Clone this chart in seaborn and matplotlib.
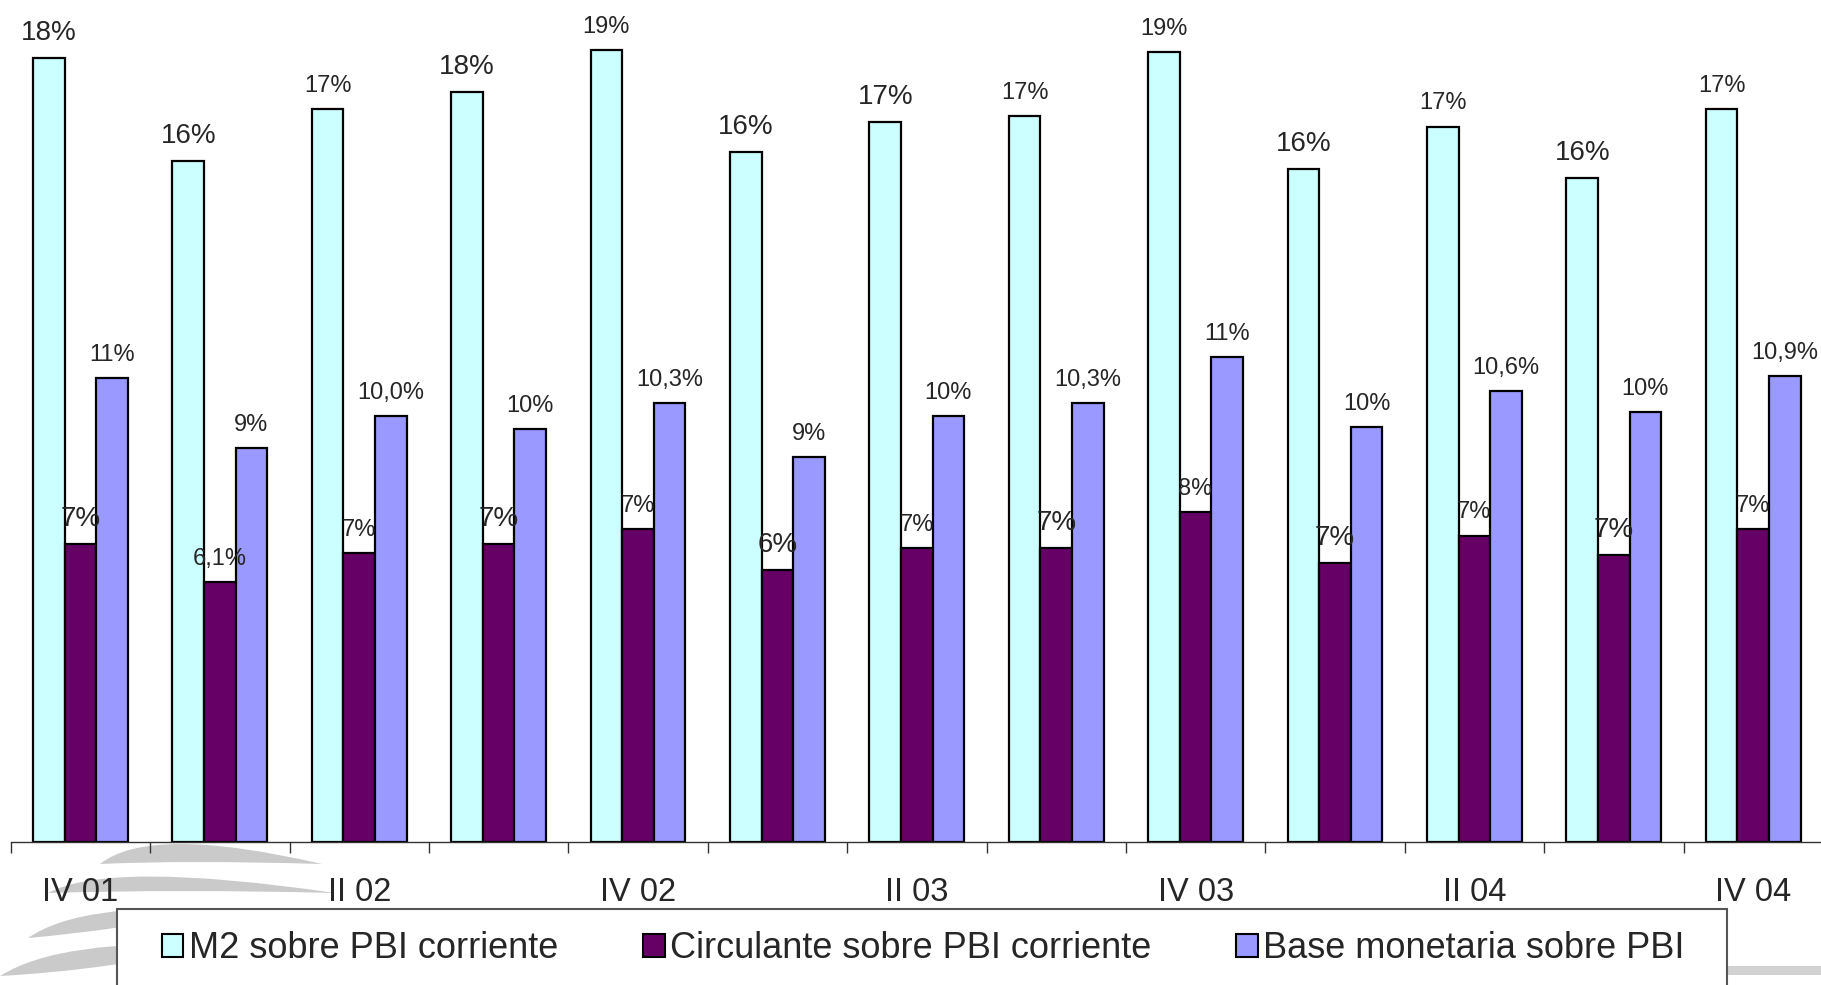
import numpy as np
import pandas as pd
import matplotlib
matplotlib.use("Agg")
import matplotlib.pyplot as plt
import matplotlib.patches as mpatches
import matplotlib.transforms as mtransforms
from matplotlib.path import Path
import seaborn as sns

# data
trimestres = ["IV 01", "I 02", "II 02", "III 02", "IV 02", "I 03", "II 03",
              "III 03", "IV 03", "I 04", "II 04", "III 04", "IV 04"]
tick_labels = ["IV 01", "", "II 02", "", "IV 02", "", "II 03",
               "", "IV 03", "", "II 04", "", "IV 04"]
series = ["M2 sobre PBI corriente", "Circulante sobre PBI corriente",
          "Base monetaria sobre PBI"]
m2 = [18.4, 16.0, 17.2, 17.6, 18.6, 16.2, 16.9, 17.05, 18.55, 15.8, 16.8, 15.6, 17.2]
circulante = [7.0, 6.1, 6.8, 7.0, 7.35, 6.4, 6.9, 6.9, 7.75, 6.55, 7.2, 6.75, 7.35]
base = [10.9, 9.25, 10.0, 9.7, 10.3, 9.05, 10.0, 10.3, 11.4, 9.75, 10.6, 10.1, 10.95]

m2_labels = ["18%", "16%", "17%", "18%", "19%", "16%", "17%", "17%", "19%",
             "16%", "17%", "16%", "17%"]
circ_labels = ["7%", "6,1%", "7%", "7%", "7%", "6%", "7%", "7%", "8%",
               "7%", "7%", "7%", "7%"]
base_labels = ["11%", "9%", "10,0%", "10%", "10,3%", "9%", "10%", "10,3%", "11%",
               "10%", "10,6%", "10%", "10,9%"]
# which labels are printed in the larger size
m2_big = [1, 1, 0, 1, 0, 1, 1, 0, 0, 1, 0, 1, 0]
circ_big = [1, 0, 0, 1, 0, 1, 0, 1, 0, 1, 0, 1, 0]
base_big = [0] * 13

colors = ["#CCFFFF", "#660066", "#9999FF"]

df = pd.DataFrame({
    "trimestre": trimestres * 3,
    "serie": np.repeat(series, len(trimestres)),
    "valor": m2 + circulante + base,
})

sns.set_style("white")
plt.rcParams["font.family"] = ["Liberation Sans", "DejaVu Sans"]

W, H = 1821, 985
fig = plt.figure(figsize=(W / 100, H / 100), dpi=100)
ax = fig.add_axes([10.7 / W, 1 - 842.3 / H, 13 * 139.4 / W, 842.3 / H])

sns.barplot(data=df, x="trimestre", y="valor", hue="serie", order=trimestres,
            hue_order=series, palette=colors, width=0.68, gap=0,
            edgecolor="black", linewidth=1.6, saturation=1, legend=False, ax=ax)

for cont, labs, big in zip(ax.containers, [m2_labels, circ_labels, base_labels],
                           [m2_big, circ_big, base_big]):
    texts = ax.bar_label(cont, labels=labs, padding=8.7, fontsize=17)
    for t, b in zip(texts, big):
        if b:
            t.set_fontsize(20)

ax.set_xlim(-0.5, 12.5)
ax.set_ylim(0, 19.77)
ax.set_xlabel("")
ax.set_ylabel("")
ax.set_yticks([])
ax.set_xticks(range(len(trimestres)))
ax.set_xticklabels(tick_labels, fontsize=23.5)
ax.set_xticks(np.arange(-0.5, 13, 1), minor=True)
ax.tick_params(axis="x", which="major", bottom=True, length=0, pad=25)
ax.tick_params(axis="x", which="minor", bottom=True, length=8, width=1,
               color="#333333")
for s in ["top", "left", "right"]:
    ax.spines[s].set_visible(False)
ax.spines["bottom"].set_color("#333333")
ax.spines["bottom"].set_linewidth(1.0)
ax.patch.set_alpha(0)

# faint grey swooshes of the background logo (figure pixel coords)
px = mtransforms.Affine2D().scale(1 / W, -1 / H).translate(0, 1) + fig.transFigure


def swoosh(left, right, ctop, cbot):
    verts = [left, ctop, right, cbot, left]
    codes = [Path.MOVETO, Path.CURVE3, Path.CURVE3, Path.CURVE3, Path.CURVE3]
    p = mpatches.PathPatch(Path(verts, codes), facecolor="#CACACA",
                           edgecolor="none", transform=px, zorder=-5)
    fig.add_artist(p)


swoosh((100, 864), (322, 864), (150, 824), (185, 860))
swoosh((48, 893), (335, 893), (110, 860), (180, 889))
swoosh((28, 938), (220, 910), (80, 902), (120, 930))
swoosh((0, 976), (220, 945), (60, 938), (110, 970))
fig.add_artist(mpatches.Rectangle((1727, 966), 100, 9, facecolor="#D2D2D2",
                                  edgecolor="none", transform=px, zorder=-5))

# legend box, running off the bottom edge
fig.add_artist(mpatches.Rectangle((116.7, 909.3), 1610, 120, facecolor="white",
                                  edgecolor="#555555", linewidth=1.5,
                                  transform=px, zorder=1))
handles = [mpatches.Patch(facecolor=c, edgecolor="black", linewidth=1.5)
           for c in colors]
leg = fig.legend(handles, series, loc="center left",
                 bbox_to_anchor=(161.7 / W, 1 - 949 / H), ncol=3, frameon=False,
                 fontsize=26, handlelength=0.6, handleheight=0.6,
                 handletextpad=0.15, columnspacing=2.35, borderpad=0,
                 borderaxespad=0)
leg.set_zorder(2)

fig.savefig("out.png", dpi=100, facecolor="white")
